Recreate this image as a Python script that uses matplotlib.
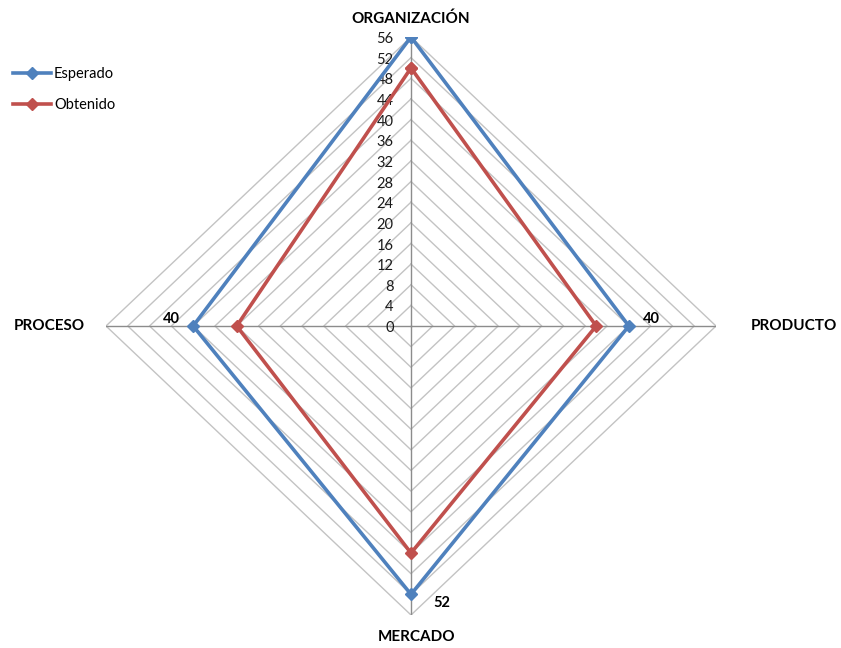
import numpy as np
import matplotlib.pyplot as plt

categorias = ["ORGANIZACIÓN", "PRODUCTO", "MERCADO", "PROCESO"]
esperado = [56, 40, 52, 40]
obtenido = [50, 34, 44, 32]
ticks = list(range(0, 57, 4))
rmax = 56

# axes go clockwise starting at the top
angulos = np.pi / 2 - np.arange(len(categorias)) * 2 * np.pi / len(categorias)


def to_xy(valores):
    v = np.asarray(valores, dtype=float)
    return v * np.cos(angulos), v * np.sin(angulos)


plt.rcParams['font.family'] = ['Lato', 'DejaVu Sans']

fig = plt.figure(figsize=(8.41, 6.48), dpi=100)
ax = fig.add_axes([106 / 841, 33 / 648, 610 / 841, 578 / 648])
ax.set_xlim(-rmax, rmax)
ax.set_ylim(-rmax, rmax)
ax.axis('off')

# diamond grid
for t in ticks[1:]:
    gx, gy = to_xy([t] * len(categorias))
    ax.plot(np.append(gx, gx[0]), np.append(gy, gy[0]), color='#c3c3c3', lw=1, zorder=1)

# spokes
ex, ey = to_xy([rmax] * len(categorias))
for x, y in zip(ex, ey):
    ax.plot([0, x], [0, y], color='#8c8c8c', lw=1, zorder=1)

# value labels along the vertical axis
for t in ticks:
    ax.annotate(str(t), (0, t), xytext=(-12.5, -1.5), textcoords='offset points',
                ha='right', va='center', fontsize=10.5, color='#1a1a1a')

series = [("Esperado", esperado, '#4f81bd'), ("Obtenido", obtenido, '#c0504d')]
for nombre, vals, color in series:
    sx, sy = to_xy(vals)
    ax.plot(np.append(sx, sx[0]), np.append(sy, sy[0]), color=color, lw=2.6,
            marker='D', markersize=6.5, label=nombre, zorder=3)

# data labels for the expected series
ex_x, ex_y = to_xy(esperado)
offsets = {1: (16, 5), 2: (22, -6), 3: (-16, 5)}
for i, (dx, dy) in offsets.items():
    ax.annotate(str(esperado[i]), (ex_x[i], ex_y[i]), xytext=(dx, dy),
                textcoords='offset points', ha='center', va='center',
                fontsize=10.5, fontweight='bold', color='black', zorder=4)

# category names
cat_off = [(0, 13), (56, 0), (4, -16), (-41, 0)]
for i, nombre in enumerate(categorias):
    ax.annotate(nombre, (ex[i], ey[i]), xytext=cat_off[i], textcoords='offset points',
                ha='center', va='center', fontsize=11, fontweight='bold',
                color='black', annotation_clip=False)

fig.legend(loc='upper left', bbox_to_anchor=(0.0, 0.917), frameon=False,
           fontsize=10.5, handlelength=2.6, labelspacing=1.15, handletextpad=0.2)

fig.savefig('out.png', dpi=100)
